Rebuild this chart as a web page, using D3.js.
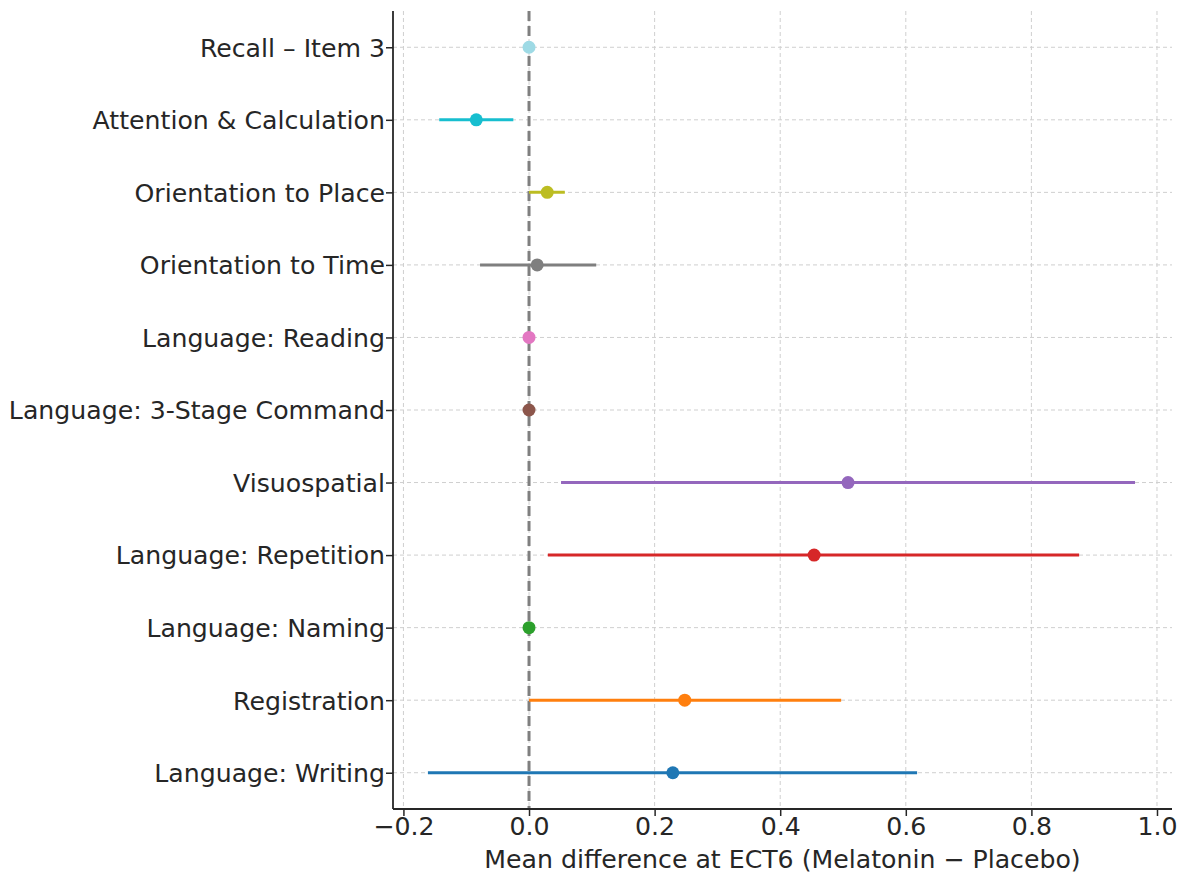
<!DOCTYPE html>
<html><head><meta charset="utf-8">
<script src="https://cdn.jsdelivr.net/npm/d3@7"></script>
<style>body{margin:0;background:#fff}svg{display:block}text{font-family:"DejaVu Sans",sans-serif;fill:#262626}</style>
</head><body>
<script>
const categories = ["Language: Writing","Registration","Language: Naming","Language: Repetition","Visuospatial","Language: 3-Stage Command","Language: Reading","Orientation to Time","Orientation to Place","Attention & Calculation","Recall – Item 3"];
const means = [0.229,0.248,0.0,0.454,0.508,0.0,0.0,0.013,0.029,-0.084,0.0];
const lower = [-0.161,0.0,0.0,0.030,0.051,0.0,0.0,-0.078,0.0,-0.143,0.0];
const upper = [0.618,0.497,0.0,0.876,0.965,0.0,0.0,0.107,0.057,-0.025,0.0];
const colors = ["#1f77b4","#ff7f0e","#2ca02c","#d62728","#9467bd","#8c564b","#e377c2","#7f7f7f","#bcbd22","#17becf","#9edae5"];
const xTicks = [-0.2,0.0,0.2,0.4,0.6,0.8,1.0];
const xLabel = "Mean difference at ECT6 (Melatonin \u2212 Placebo)";

const W=1182,H=873, L=393, R=1172, T=11, B=809;
const FS=25.2;
const svg=d3.select("body").append("svg").attr("width",W).attr("height",H);
const x=d3.scaleLinear().domain([-0.2166,1.0239]).range([L,R]);
const y=d3.scaleLinear().domain([-0.5,10.5]).range([B,T]);
const g=svg.append("g");
// grid
g.selectAll(".gx").data(xTicks).join("line").attr("x1",d=>x(d)).attr("x2",d=>x(d)).attr("y1",T).attr("y2",B)
 .attr("stroke","#cfcfcf").attr("stroke-width",1).attr("stroke-dasharray","4,3");
g.selectAll(".gy").data(categories).join("line").attr("x1",L).attr("x2",R).attr("y1",(d,i)=>y(i)).attr("y2",(d,i)=>y(i))
 .attr("stroke","#cfcfcf").attr("stroke-width",1).attr("stroke-dasharray","4,3");
// zero line
g.append("line").attr("x1",x(0)).attr("x2",x(0)).attr("y1",T).attr("y2",B).attr("stroke","#7f7f7f").attr("stroke-width",3).attr("stroke-dasharray","10,5");
// CI
g.selectAll(".ci").data(categories).join("line").attr("x1",(d,i)=>x(lower[i])).attr("x2",(d,i)=>x(upper[i]))
 .attr("y1",(d,i)=>y(i)).attr("y2",(d,i)=>y(i)).attr("stroke",(d,i)=>colors[i]).attr("stroke-width",3);
g.selectAll(".pt").data(categories).join("circle").attr("cx",(d,i)=>x(means[i])).attr("cy",(d,i)=>y(i)).attr("r",6.5).attr("fill",(d,i)=>colors[i]);
// axes
const xa=svg.append("g").attr("transform",`translate(0,${B})`).call(d3.axisBottom(x).tickValues(xTicks).tickFormat(d=>d3.format(".1f")(d).replace("-","\u2212")).tickSize(7).tickSizeOuter(0));
xa.select(".domain").attr("stroke","#262626").attr("stroke-width",1.8).attr("d",`M${L},0H${R}`);
xa.selectAll(".tick line").attr("stroke","#262626").attr("stroke-width",1.5);
xa.selectAll(".tick text").attr("font-size",FS).attr("y",0).attr("dy","1.03em").attr("font-family","DejaVu Sans").attr("fill","#262626");
const ya=svg.append("g").attr("transform",`translate(${L},0)`).call(d3.axisLeft(y).tickValues(d3.range(categories.length)).tickFormat(i=>categories[i]).tickSize(7).tickSizeOuter(0));
ya.select(".domain").attr("stroke","#262626").attr("stroke-width",1.8).attr("d",`M0,${T}V${B}`);
ya.selectAll(".tick line").attr("stroke","#262626").attr("stroke-width",1.5);
ya.selectAll(".tick text").attr("font-size",FS).attr("x",-8).attr("dy","0.35em").attr("font-family","DejaVu Sans").attr("fill","#262626");
svg.append("text").attr("x",(L+R)/2).attr("y",868).attr("text-anchor","middle").attr("font-size",FS).text(xLabel);
</script>
</body></html>
